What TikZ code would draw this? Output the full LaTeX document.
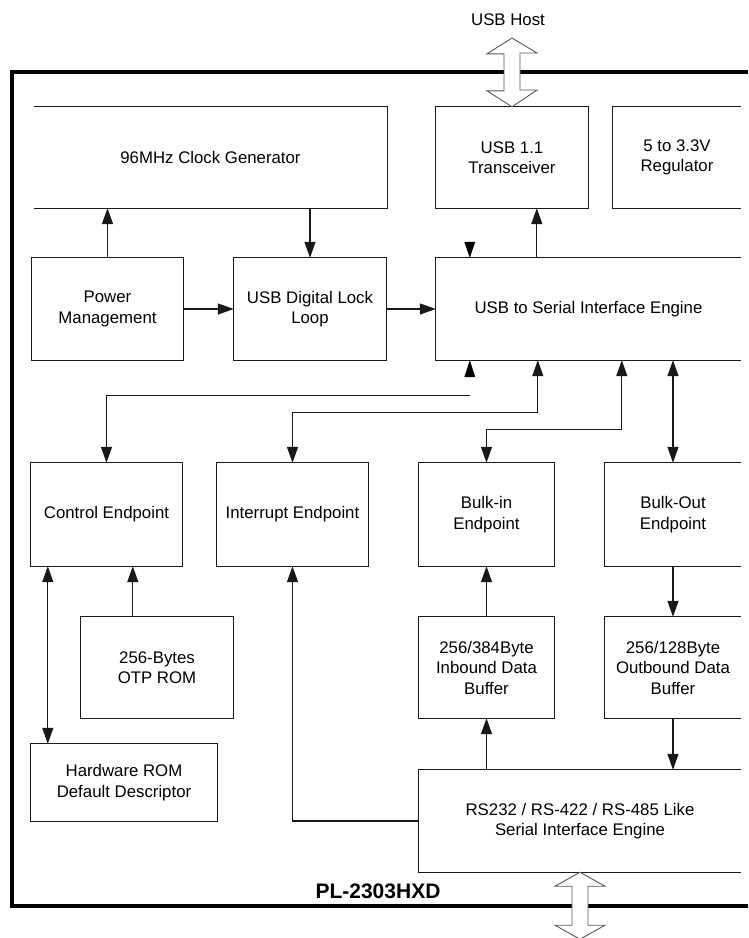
\documentclass[tikz,border=0pt]{standalone}
\usepackage{fontspec}
\setmainfont{Liberation Sans}
\usetikzlibrary{arrows.meta}

\begin{document}
\begin{tikzpicture}[x=1pt,y=-1pt,
  txt/.style={font=\fontsize{16.8}{20.5}\selectfont, align=center, text=black, inner sep=0pt},
  box/.style={txt, draw=none, minimum width=#1, minimum height=101pt},
  edge/.style={line width=1.3pt, draw=black!90},
  tip/.style={-{Triangle[length=16pt,width=11pt]}},
  twotip/.style={{Triangle[length=16pt,width=11pt]}-{Triangle[length=16pt,width=11pt]}},
  headonly/.style={fill=black},
  hollow/.style={fill=white, draw=black!65, line width=0.9pt, line join=miter},
  frame/.style={line width=4.6pt, draw=black, line join=miter}
]
\useasboundingbox (0,0) rectangle (748,938);
\fill[white] (0,0) rectangle (748,938);

% chip outline (right side runs off the page)
\draw[frame] (748,72) -- (12,72) -- (12,906) -- (748,906);

% ---------- top row ----------
\node[box=353pt] (clk) at (210.5,157.5) {96MHz Clock Generator};
\draw[edge] (clk.north west) -- (clk.north east) -- (clk.south east) -- (clk.south west);

\node[box=152pt] (xcvr) at (512,157.5) {USB 1.1\\Transceiver};
\draw[edge] (xcvr.north west) -- (xcvr.north east) -- (xcvr.south east) -- (xcvr.south west) -- cycle;

\node[box=128pt] (reg) at (677,157.5) {5 to 3.3V\\Regulator};
\draw[edge] (reg.north east) -- (reg.north west) -- (reg.south west) -- (reg.south east);

% ---------- second row ----------
\node[box=151pt, minimum height=102pt] (pwr) at (107.5,309) {Power\\Management};
\draw[edge] (pwr.north west) -- (pwr.north east) -- (pwr.south east) -- (pwr.south west) -- cycle;
\node[box=152pt, minimum height=102pt] (dll) at (310,309) {USB Digital Lock\\Loop};
\draw[edge] (dll.north west) -- (dll.north east) -- (dll.south east) -- (dll.south west) -- cycle;
\node[box=305pt, minimum height=102pt] (eng) at (588.5,309) {USB to Serial Interface Engine};
\draw[edge] (eng.north east) -- (eng.north west) -- (eng.south west) -- (eng.south east);

% ---------- endpoints ----------
\node[box=151pt, minimum height=103pt] (ctrl) at (106.5,514.5) {Control Endpoint};
\draw[edge] (ctrl.north west) -- (ctrl.north east) -- (ctrl.south east) -- (ctrl.south west) -- cycle;
\node[box=151pt, minimum height=103pt] (intr) at (292.5,514.5) {Interrupt Endpoint};
\draw[edge] (intr.north west) -- (intr.north east) -- (intr.south east) -- (intr.south west) -- cycle;
\node[box=135pt, minimum height=103pt] (bin) at (486.5,514.5) {Bulk-in\\Endpoint};
\draw[edge] (bin.north west) -- (bin.north east) -- (bin.south east) -- (bin.south west) -- cycle;
\node[box=136pt, minimum height=103pt] (bout) at (673,514.5) {Bulk-Out\\Endpoint};
\draw[edge] (bout.north east) -- (bout.north west) -- (bout.south west) -- (bout.south east);

% ---------- memories and buffers ----------
\node[box=152pt] (otp) at (157,667.5) {256-Bytes\\OTP ROM};
\draw[edge] (otp.north west) -- (otp.north east) -- (otp.south east) -- (otp.south west) -- cycle;
\node[box=135pt] (ibuf) at (486.5,667.5) {256/384Byte\\Inbound Data\\Buffer};
\draw[edge] (ibuf.north west) -- (ibuf.north east) -- (ibuf.south east) -- (ibuf.south west) -- cycle;
\node[box=136pt] (obuf) at (673,667.5) {256/128Byte\\Outbound Data\\Buffer};
\draw[edge] (obuf.north east) -- (obuf.north west) -- (obuf.south west) -- (obuf.south east);

\node[box=186pt, minimum height=77pt] (hw) at (124,782.5) {Hardware ROM\\Default Descriptor};
\draw[edge] (hw.north west) -- (hw.north east) -- (hw.south east) -- (hw.south west) -- cycle;

\node[box=322pt, minimum height=102pt] (rs) at (580,821) {RS232 / RS-422 / RS-485 Like\\Serial Interface Engine};
\draw[edge] (rs.north east) -- (rs.north west) -- (rs.south west) -- (rs.south east);

% ---------- labels ----------
\node[txt] (host) at (508,20) {USB Host};
\node[font=\fontsize{21}{24}\selectfont\bfseries, inner sep=0pt] (chip) at (378,891) {PL-2303HXD};

% ---------- connectors ----------
\draw[edge, tip] (pwr.north) -- (pwr.north |- clk.south);
\draw[edge, tip] (clk.south -| dll.north) -- (dll.north);
\draw[edge, tip] (pwr.east) -- (dll.west);
\draw[edge, tip] (dll.east) -- (eng.west);
\draw[edge, tip] ([xshift=101pt]eng.north west) -- ([xshift=101pt]eng.north west |- xcvr.south);

% loose arrowheads at the engine
\coordinate (engtop) at ([xshift=34pt]eng.north west);
\coordinate (engbot) at ([xshift=34pt]eng.south west);
\fill[headonly] (engtop) -- ++(-5.5,-16) -- ++(11,0) -- cycle;
\fill[headonly] (engbot) -- ++(-5.5,17) -- ++(11,0) -- cycle;

% engine to the endpoints
\coordinate (cj) at ([yshift=-35pt]engbot);
\draw[edge, tip] (cj) -| (ctrl.north);
\draw[edge, twotip] ([xshift=102pt]eng.south west) |- ([yshift=50pt]intr.north) -- (intr.north);
\draw[edge, twotip] ([xshift=186pt]eng.south west) |- ([yshift=33pt]bin.north) -- (bin.north);
\draw[edge, twotip] (eng.south -| bout.north) -- (bout.north);

% control endpoint side
\draw[edge, tip] ([xshift=52pt]otp.north west) -- ([xshift=52pt]otp.north west |- ctrl.south);
\draw[edge, twotip] ([xshift=17pt]ctrl.south west) -- ([xshift=17pt]ctrl.south west |- hw.north);

% serial engine paths
\draw[edge, tip] (rs.west) -| (intr.south);
\draw[edge, tip] (ibuf.north) -- (bin.south);
\draw[edge, tip] (rs.north -| ibuf.south) -- (ibuf.south);
\draw[edge, tip] (bout.south) -- (obuf.north);
\draw[edge, tip] (obuf.south) -- (obuf.south |- rs.north);

% bus arrows to the host and to the serial port
\coordinate (hosttip) at (512,38);
\draw[hollow] (hosttip) -- ++(25,15) -- ++(-17,0) -- ++(0,37) -- ++(17,0)
  -- (xcvr.north) -- ++(-25,-16) -- ++(17,0) -- ++(0,-37) -- ++(-17,0) -- cycle;
\draw[hollow] (rs.south) -- ++(25,14) -- ++(-17,0) -- ++(0,39) -- ++(17,0)
  -- ++(-25,14) -- ++(-25,-14) -- ++(17,0) -- ++(0,-39) -- ++(-17,0) -- cycle;
\end{tikzpicture}
\end{document}
